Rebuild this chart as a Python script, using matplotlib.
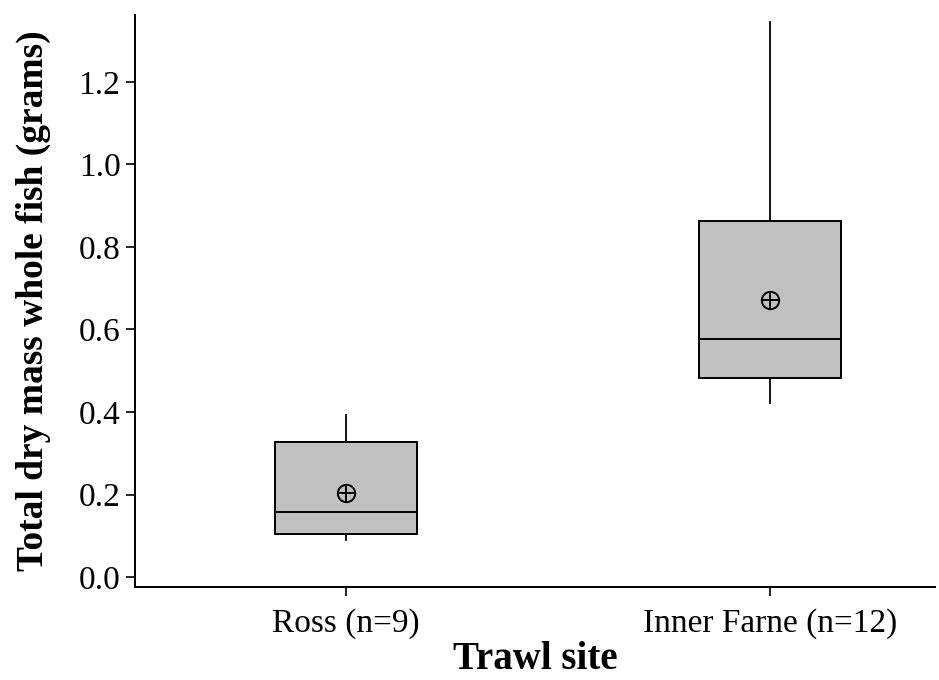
import numpy as np
import matplotlib.pyplot as plt

sites = ["Ross (n=9)", "Inner Farne (n=12)"]
whislo = [0.090, 0.422]
q1 = [0.104, 0.482]
med = [0.158, 0.577]
q3 = [0.327, 0.863]
whishi = [0.393, 1.345]
means = [0.204, 0.672]

plt.rcParams["font.family"] = ["Liberation Serif", "DejaVu Serif"]

fig = plt.figure(figsize=(9.39, 6.8), dpi=100)
ax = fig.add_axes([135 / 939, 1 - 587 / 680, 800 / 939, 572 / 680])

stats = []
for i in range(len(sites)):
    stats.append({"whislo": whislo[i], "q1": q1[i], "med": med[i], "q3": q3[i],
                  "whishi": whishi[i], "fliers": [], "label": sites[i]})

ax.bxp(stats, positions=[1, 2], widths=0.335, showcaps=False, patch_artist=True,
       boxprops=dict(facecolor="#c0c0c0", edgecolor="black", linewidth=1.4),
       medianprops=dict(color="black", linewidth=1.4),
       whiskerprops=dict(color="black", linewidth=1.3))

ax.plot([1, 2], means, "o", ms=12.5, mfc="none", mec="black", mew=1.4, ls="none")
ax.plot([1, 2], means, "+", ms=12.5, mec="black", mew=1.4, ls="none")

ax.set_xlim(0.502, 2.389)
ax.set_ylim(-0.024, 1.362)
ax.set_yticks(np.arange(0, 1.21, 0.2))
ax.set_yticklabels([f"{v:.1f}" for v in np.arange(0, 1.21, 0.2)])
for s in ["top", "right"]:
    ax.spines[s].set_visible(False)
ax.spines["left"].set_linewidth(1.4)
ax.spines["bottom"].set_linewidth(1.4)
ax.tick_params(axis="both", labelsize=24, width=1.2, length=6.5)
ax.tick_params(axis="x", pad=9)
ax.tick_params(axis="y", pad=4)

ax.set_xlabel("Trawl site", fontsize=28, fontweight="bold", labelpad=1)
ax.set_ylabel("Total dry mass whole fish (grams)", fontsize=27, fontweight="bold", labelpad=20)

fig.savefig("out.png", dpi=100)
